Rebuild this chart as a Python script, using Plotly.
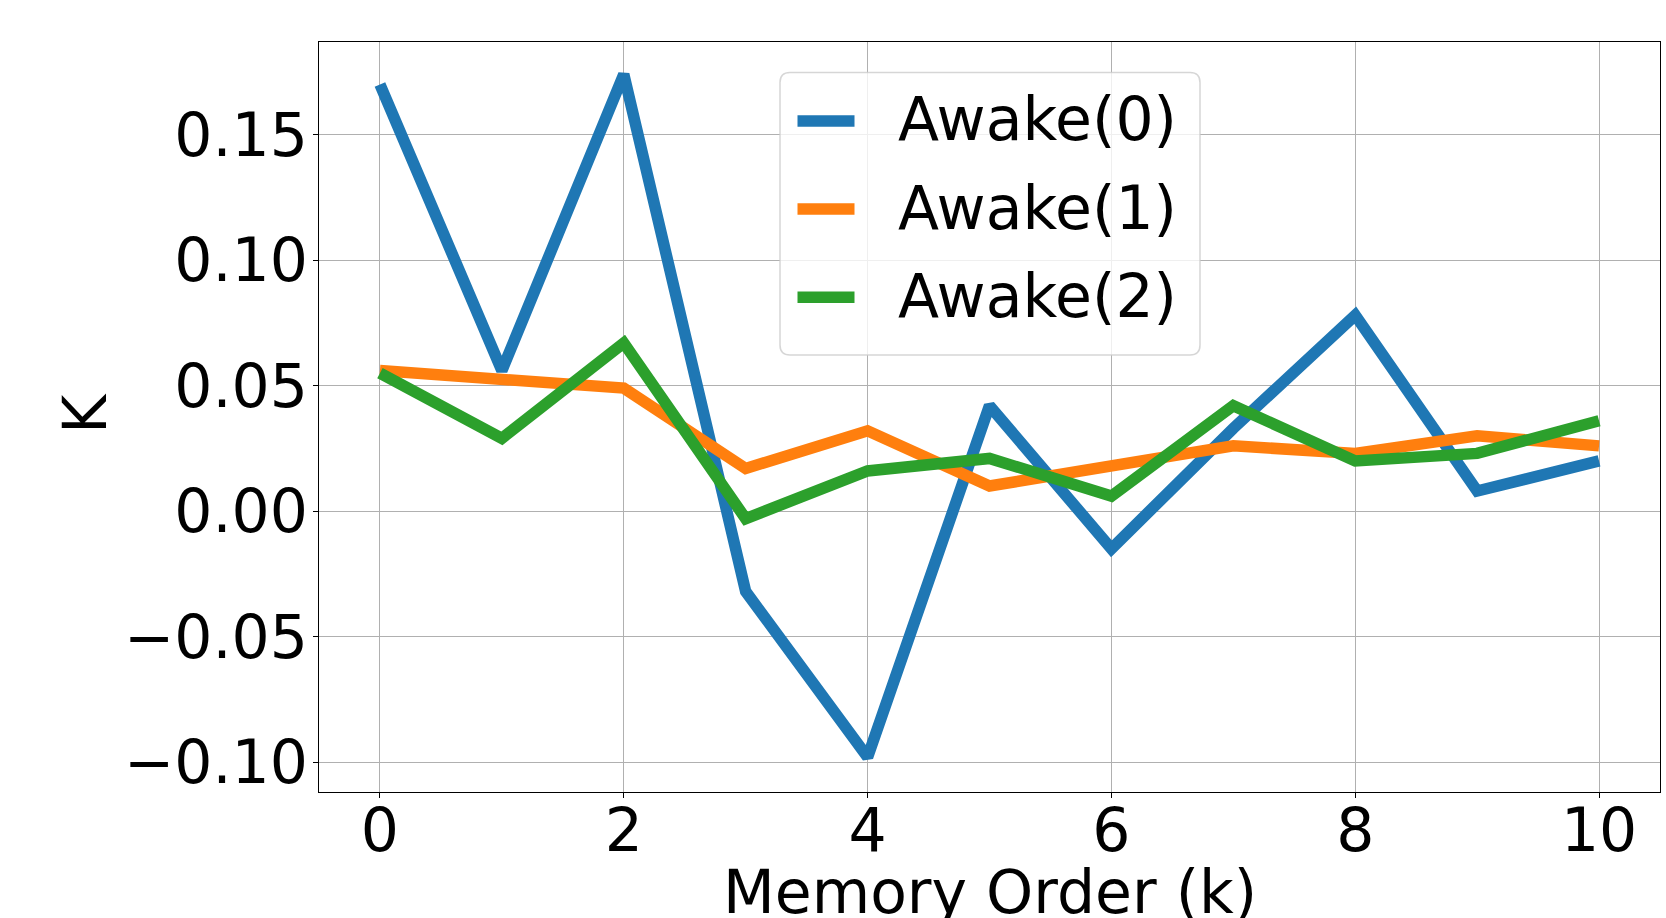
import plotly.graph_objects as go

# Memory order k and the K value for each awake state
k_values = [0, 1, 2, 3, 4, 5, 6, 7, 8, 9, 10]
awake0 = [0.170, 0.056, 0.174, -0.032, -0.098, 0.042, -0.015, 0.033, 0.078, 0.008, 0.020]
awake1 = [0.056, 0.053, 0.049, 0.017, 0.032, 0.010, 0.018, 0.026, 0.023, 0.030, 0.026]
awake2 = [0.055, 0.029, 0.067, -0.003, 0.016, 0.021, 0.006, 0.042, 0.020, 0.023, 0.036]

series_names = ["Awake(0)", "Awake(1)", "Awake(2)"]
series_colors = ["#1f77b4", "#ff7f0e", "#2ca02c"]

x_ticks = [0, 2, 4, 6, 8, 10]
y_ticks = [-0.10, -0.05, 0.00, 0.05, 0.10, 0.15]
y_tick_text = ["\u22120.10", "\u22120.05", "0.00", "0.05", "0.10", "0.15"]

x_title = "Memory Order (k)"
y_title = "K"

FONT = "DejaVu Sans"
FS = 60
LW = 11.5

# Figure and plot-area geometry (pixels)
W, H = 1666, 918
M_L, M_R, M_T, M_B = 319, 6, 42, 126
PW, PH = W - M_L - M_R, H - M_T - M_B


def px(x):
    """Pixel x -> paper x."""
    return (x - M_L) / PW


def py(y):
    """Pixel y (from top) -> paper y."""
    return 1 - (y - M_T) / PH


fig = go.Figure()
for name, ys, color in zip(series_names, [awake0, awake1, awake2], series_colors):
    fig.add_trace(go.Scatter(
        x=k_values, y=ys, mode="lines", name=name,
        line=dict(color=color, width=LW),
        showlegend=False,
    ))

axis_common = dict(
    showline=True, linecolor="black", linewidth=1.3, mirror=True,
    showgrid=True, gridcolor="#b0b0b0", gridwidth=1,
    ticks="outside", ticklen=5, tickwidth=1.3, tickcolor="black",
    zeroline=False,
    tickfont=dict(family=FONT, size=FS, color="black"),
)

fig.update_xaxes(
    range=[-0.5, 10.5], tickvals=x_ticks, ticktext=[str(t) for t in x_ticks],
    ticklabelstandoff=-19,
    **axis_common,
)
fig.update_yaxes(
    range=[-0.1119, 0.1869], tickvals=y_ticks, ticktext=y_tick_text,
    ticklabelstandoff=-7,
    **axis_common,
)

annotations = [
    # axis titles
    dict(text=x_title, xref="paper", yref="paper", x=0.5, y=py(855),
         xanchor="center", yanchor="top", showarrow=False,
         font=dict(family=FONT, size=FS, color="black")),
    dict(text=y_title, xref="paper", yref="paper", x=px(85), y=py(414),
         xanchor="center", yanchor="middle", showarrow=False, textangle=-90,
         font=dict(family=FONT, size=FS, color="black")),
]

# Legend box with rounded corners, drawn above the lines
bx0, bx1, by0, by1, r = 780, 1200, 72.5, 355, 10
rx, ry = r / PW, r / PH
X0, X1, Y0, Y1 = px(bx0), px(bx1), py(by0), py(by1)
box_path = (
    f"M{X0 + rx},{Y0} L{X1 - rx},{Y0} Q{X1},{Y0} {X1},{Y0 - ry} "
    f"L{X1},{Y1 + ry} Q{X1},{Y1} {X1 - rx},{Y1} "
    f"L{X0 + rx},{Y1} Q{X0},{Y1} {X0},{Y1 + ry} "
    f"L{X0},{Y0 - ry} Q{X0},{Y0} {X0 + rx},{Y0} Z"
)
shapes = [dict(
    type="path", path=box_path, xref="paper", yref="paper", layer="above",
    fillcolor="rgba(255,255,255,0.8)", line=dict(color="rgba(204,204,204,0.8)", width=1.5),
)]
row_y = [121, 209, 297.3]
for name, color, ry_px in zip(series_names, series_colors, row_y):
    shapes.append(dict(
        type="line", xref="paper", yref="paper", layer="above",
        x0=px(797.5), x1=px(854.5), y0=py(ry_px), y1=py(ry_px),
        line=dict(color=color, width=LW),
    ))
    annotations.append(dict(
        text=name, xref="paper", yref="paper", x=px(896), y=py(ry_px - 1.5),
        xanchor="left", yanchor="middle", showarrow=False,
        font=dict(family=FONT, size=FS, color="black"),
    ))

fig.update_layout(
    width=W, height=H,
    margin=dict(l=M_L, r=M_R, t=M_T, b=M_B, autoexpand=False),
    paper_bgcolor="white", plot_bgcolor="white",
    font=dict(family=FONT, size=FS, color="black"),
    showlegend=False,
    shapes=shapes,
    annotations=annotations,
)

fig.write_html("out.html")
